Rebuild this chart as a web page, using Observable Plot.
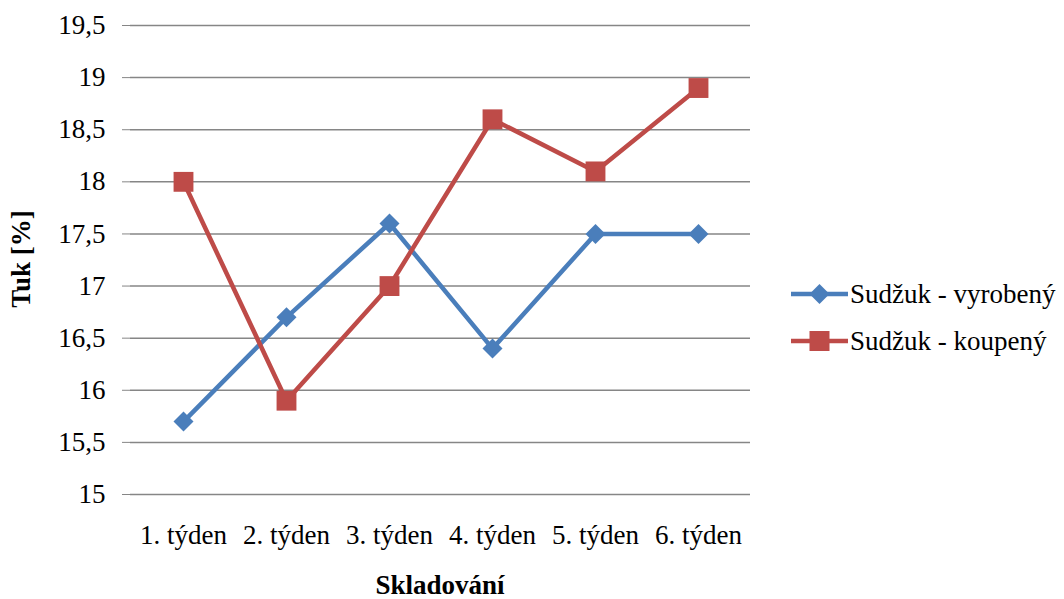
<!DOCTYPE html>
<html>
<head>
<meta charset="utf-8">
<script src="https://cdn.jsdelivr.net/npm/d3@7"></script>
<script src="https://cdn.jsdelivr.net/npm/@observablehq/plot@0.6"></script>
<style>
  html, body { margin: 0; padding: 0; background: #fff; }
  #chart svg { display: block; }
  #chart svg, #chart svg text { font-family: "Liberation Serif", serif !important; }
</style>
</head>
<body>
<div id="chart"></div>
<script>
const weeks = ["1. týden", "2. týden", "3. týden", "4. týden", "5. týden", "6. týden"];
const seriesNames = ["Sudžuk - vyrobený", "Sudžuk - koupený"];
const vyrobeny = [15.7, 16.7, 17.6, 16.4, 17.5, 17.5];
const koupeny = [18.0, 15.9, 17.0, 18.6, 18.1, 18.9];
const yTicks = [15, 15.5, 16, 16.5, 17, 17.5, 18, 18.5, 19, 19.5];
const colors = ["#4A7EBB", "#BE4B48"];

const rowsV = weeks.map((w, i) => ({week: w, value: vyrobeny[i], series: seriesNames[0]}));
const rowsK = weeks.map((w, i) => ({week: w, value: koupeny[i], series: seriesNames[1]}));

const fontFam = "Liberation Serif, serif";
const W = 1064, H = 599;

const chart = Plot.plot({
  width: W,
  height: H,
  marginLeft: 130,
  marginRight: 314,
  marginTop: 25,
  marginBottom: 105,
  style: {fontFamily: fontFam, fontSize: "27px", color: "black", background: "white"},
  x: {type: "point", domain: weeks, padding: 0.5},
  y: {domain: [15, 19.5]},
  marks: [
    Plot.ruleY(yTicks, {stroke: "#868686", strokeWidth: 1.5}),
    Plot.ruleX([0], {frameAnchor: "left", stroke: "#868686", strokeWidth: 1.5}),
    Plot.axisY({ticks: yTicks, tickSize: 8, tickPadding: 17, stroke: "#868686", fill: "black",
      tickFormat: d => String(d).replace(".", ","), label: null, fontSize: 27}),
    Plot.axisX({tickSize: 0, tickPadding: 30, fill: "black", label: null, fontSize: 27}),
    Plot.line(rowsV, {x: "week", y: "value", stroke: colors[0], strokeWidth: 4.5}),
    Plot.line(rowsK, {x: "week", y: "value", stroke: colors[1], strokeWidth: 4.5}),
    Plot.dot(rowsV, {x: "week", y: "value", symbol: "diamond2", fill: colors[0], stroke: "none", r: 9}),
    Plot.dot(rowsK, {x: "week", y: "value", symbol: "square", fill: colors[1], stroke: "none", r: 11.2})
  ]
});

document.getElementById("chart").appendChild(chart);

const svg = d3.select(chart);
// Axis titles
svg.append("text")
  .attr("transform", "translate(30,259) rotate(-90)")
  .attr("text-anchor", "middle")
  .attr("font-family", fontFam)
  .attr("font-size", 27)
  .attr("font-weight", "bold")
  .text("Tuk [%]");
svg.append("text")
  .attr("x", 440).attr("y", 594)
  .attr("text-anchor", "middle")
  .attr("font-family", fontFam)
  .attr("font-size", 27)
  .attr("font-weight", "bold")
  .text("Skladování");

// Legend
const legend = svg.append("g");
const legendRows = [
  {name: seriesNames[0], color: colors[0], symbol: "diamond"},
  {name: seriesNames[1], color: colors[1], symbol: "square"}
];
legendRows.forEach((d, i) => {
  const cy = 294 + i * 47;
  const g = legend.append("g");
  g.append("line").attr("x1", 791).attr("x2", 848).attr("y1", cy).attr("y2", cy)
    .attr("stroke", d.color).attr("stroke-width", 4.5);
  if (d.symbol === "diamond") {
    g.append("path").attr("d", d3.symbol(d3.symbolDiamond2, 255)())
      .attr("transform", `translate(819.5,${cy})`).attr("fill", d.color);
  } else {
    g.append("rect").attr("x", 809.5).attr("y", cy - 10).attr("width", 20).attr("height", 20)
      .attr("fill", d.color);
  }
  g.append("text").attr("x", 850).attr("y", cy + 9)
    .attr("text-anchor", "start")
    .attr("font-family", fontFam).attr("font-size", 27).attr("fill", "black")
    .text(d.name);
});
</script>
</body>
</html>
